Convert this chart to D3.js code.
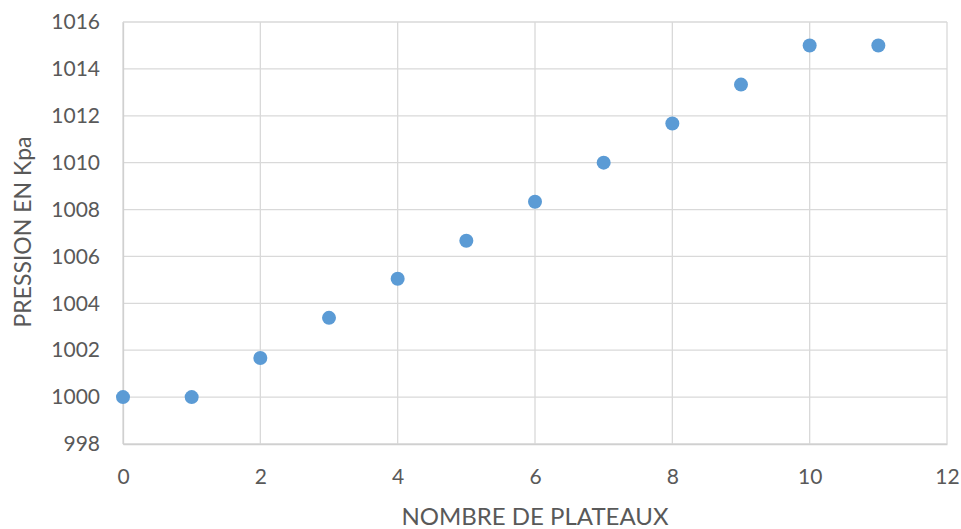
<!DOCTYPE html>
<html><head><meta charset="utf-8">
<script src="https://cdn.jsdelivr.net/npm/d3@7"></script>
<style>body{margin:0;background:#fff}svg{display:block}</style>
</head><body>
<script>
const plateaux = [0,1,2,3,4,5,6,7,8,9,10,11];
const pression = [1000,1000,1001.67,1003.38,1005.05,1006.67,1008.33,1010,1011.67,1013.33,1015,1015];
const xTicks = [0,2,4,6,8,10,12];
const yTicks = [998,1000,1002,1004,1006,1008,1010,1012,1014,1016];
const xTitle = "NOMBRE DE PLATEAUX";
const yTitle = "PRESSION EN Kpa";

const W=961,H=529;
const m={left:123,right:14,top:22,bottom:85};
const svg=d3.select("body").append("svg").attr("width",W).attr("height",H);
const x=d3.scaleLinear().domain([0,12]).range([m.left,W-m.right]);
const y=d3.scaleLinear().domain([998,1016]).range([H-m.bottom,m.top]);
const font="Lato, 'Open Sans', sans-serif";

// gridlines
svg.append("g").selectAll("line").data(yTicks).join("line")
 .attr("x1",m.left).attr("x2",W-m.right).attr("y1",d=>y(d)).attr("y2",d=>y(d))
 .attr("stroke","#d9d9d9").attr("stroke-width",1.3);
svg.append("g").selectAll("line").data(xTicks).join("line")
 .attr("y1",m.top).attr("y2",H-m.bottom).attr("x1",d=>x(d)).attr("x2",d=>x(d))
 .attr("stroke","#d9d9d9").attr("stroke-width",1.3);

const xa=svg.append("g").attr("transform",`translate(0,${H-m.bottom})`)
 .call(d3.axisBottom(x).tickValues(xTicks).tickSize(0).tickPadding(25));
const ya=svg.append("g").attr("transform",`translate(${m.left},0)`)
 .call(d3.axisLeft(y).tickValues(yTicks).tickSize(0).tickPadding(23).tickFormat(d3.format("d")));
[xa,ya].forEach(a=>{a.select(".domain").attr("stroke","#d0d0d0").attr("stroke-width",1.3);
 a.selectAll("text").attr("fill","#595959").style("font-family",font).style("font-size","21px");});

svg.append("g").selectAll("circle").data(plateaux).join("circle")
 .attr("cx",(d)=>x(d)).attr("cy",(d,i)=>y(pression[i])).attr("r",7).attr("fill","#5b9bd5");

svg.append("text").attr("x",535).attr("y",525).attr("text-anchor","middle")
 .attr("fill","#595959").style("font-family",font).style("font-size","24px").text(xTitle);
svg.append("text").attr("transform","translate(31,232) rotate(-90)").attr("text-anchor","middle")
 .attr("fill","#595959").style("font-family",font).style("font-size","23px").text(yTitle);
</script>
</body></html>
